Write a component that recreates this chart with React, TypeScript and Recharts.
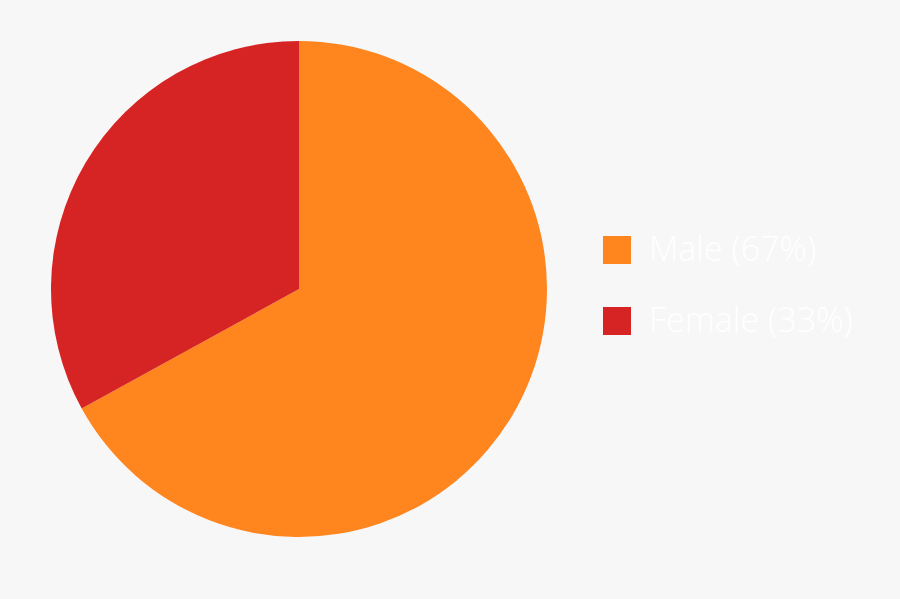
import React from 'react';
import { PieChart, Pie, Cell, Legend } from 'recharts';

const categories = ['Male', 'Female'];
const values = [67, 33];
const colors = ['#ff851f', '#d62424'];

const data = categories.map((name, i) => ({ name, value: values[i] }));

const renderLegend = (props: any) => {
  const payload = [...(props.payload || [])].sort(
    (a: any, b: any) => categories.indexOf(a.value) - categories.indexOf(b.value)
  );
  return (
    <div style={{ display: 'flex', flexDirection: 'column' }}>
      {payload.map((entry: any, i: number) => {
        const idx = categories.indexOf(entry.value);
        return (
          <div
            key={i}
            style={{ display: 'flex', alignItems: 'center', height: 28, marginBottom: i === payload.length - 1 ? 0 : 43 }}
          >
            <div style={{ width: 28, height: 28, background: entry.color, marginRight: 18, flexShrink: 0 }} />
            <span
              style={{
                fontFamily: '"Open Sans", sans-serif',
                fontSize: 34,
                fontWeight: 300,
                color: '#ffffff',
                lineHeight: '28px',
                whiteSpace: 'nowrap',
                position: 'relative',
                top: -2,
              }}
            >
              {`${entry.value} (${values[idx]}%)`}
            </span>
          </div>
        );
      })}
    </div>
  );
};

export default function App() {
  return (
    <div style={{ position: 'absolute', left: 0, top: 0, width: 900, height: 599, background: '#f7f7f7' }}>
      <PieChart width={900} height={599} margin={{ top: 0, right: 0, bottom: 0, left: 0 }}>
        <Pie
          data={data}
          dataKey="value"
          nameKey="name"
          cx={299}
          cy={289}
          outerRadius={248}
          innerRadius={0}
          startAngle={90}
          endAngle={-270}
          stroke="none"
          isAnimationActive={false}
        >
          {data.map((d, i) => (
            <Cell key={d.name} fill={colors[i]} />
          ))}
        </Pie>
        <Legend
          content={renderLegend}
          layout="vertical"
          wrapperStyle={{ position: 'absolute', left: 603, top: 236, width: 290 }}
        />
      </PieChart>
    </div>
  );
}
